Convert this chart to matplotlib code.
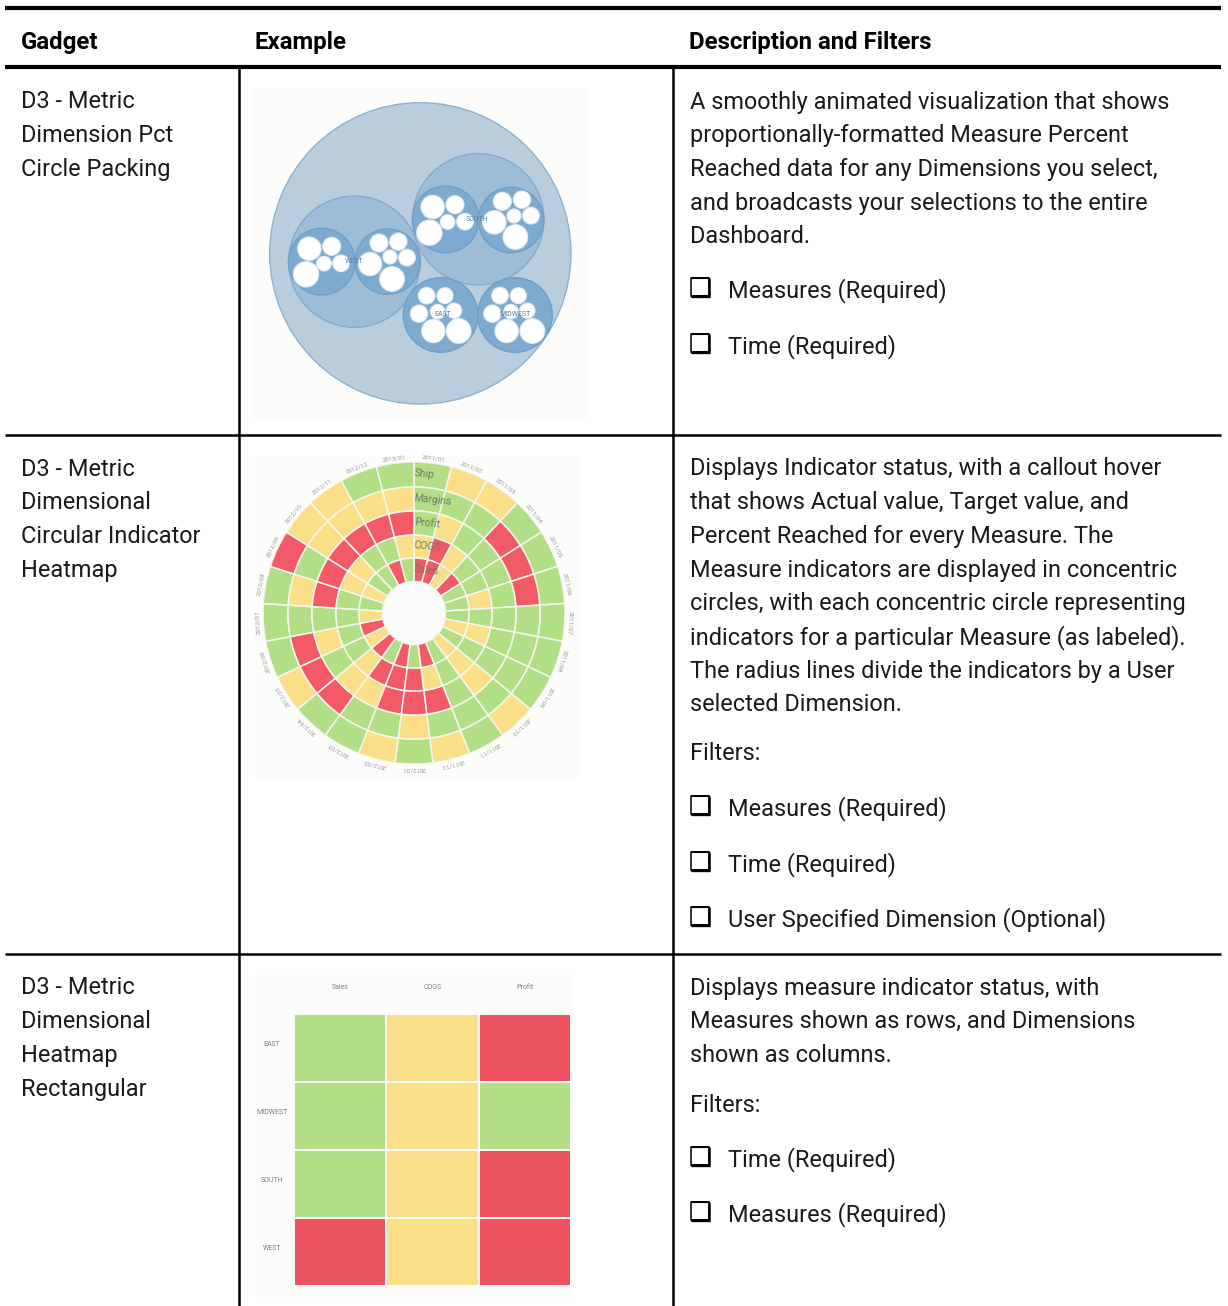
import matplotlib
matplotlib.use("Agg")
import matplotlib.pyplot as plt
from matplotlib.colors import ListedColormap
from matplotlib.patches import Circle
import numpy as np

W, H = 1228, 1306

# table text
headers = ["Gadget", "Example", "Description and Filters"]
gadget_1 = ["D3 - Metric", "Dimension Pct", "Circle Packing"]
gadget_2 = ["D3 - Metric", "Dimensional", "Circular Indicator", "Heatmap"]
gadget_3 = ["D3 - Metric", "Dimensional", "Heatmap", "Rectangular"]
desc_1 = ["A smoothly animated visualization that shows",
          "proportionally-formatted Measure Percent",
          "Reached data for any Dimensions you select,",
          "and broadcasts your selections to the entire",
          "Dashboard."]
desc_2 = ["Displays Indicator status, with a callout hover",
          "that shows Actual value, Target value, and",
          "Percent Reached for every Measure. The",
          "Measure indicators are displayed in concentric",
          "circles, with each concentric circle representing",
          "indicators for a particular Measure (as labeled).",
          "The radius lines divide the indicators by a User",
          "selected Dimension."]
desc_3 = ["Displays measure indicator status, with",
          "Measures shown as rows, and Dimensions",
          "shown as columns."]
checks_1 = ["Measures (Required)", "Time (Required)"]
checks_2 = ["Measures (Required)", "Time (Required)", "User Specified Dimension (Optional)"]
checks_3 = ["Time (Required)", "Measures (Required)"]

# circle packing (x, y, r in picture units)
root = (511, 505, 452)
groups = [(313, 530, 197), (685, 403, 197)]
subs = [(215, 530, 100), (413, 530, 98), (587, 403, 100), (783, 405, 98),
        (572, 690, 112), (795, 690, 112)]
leaves = [(178, 491, 35), (245, 484, 27), (168, 568, 38), (222, 536, 22), (273, 535, 25),
          (387, 474, 27), (445, 470, 26), (360, 537, 35), (420, 516, 21), (471, 518, 25), (426, 582, 37),
          (548, 366, 35), (615, 359, 27), (538, 443, 38), (593, 411, 22), (645, 410, 25),
          (757, 349, 27), (816, 344, 26), (733, 412, 35), (792, 393, 21), (843, 392, 25), (796, 456, 37),
          (530, 632, 25), (585, 632, 24), (507, 686, 26), (563, 680, 22), (612, 677, 23), (550, 738, 35), (626, 738, 37),
          (750, 632, 25), (805, 632, 24), (727, 686, 26), (783, 680, 22), (832, 677, 23), (770, 738, 35), (847, 738, 37)]
pack_labels = [("WEST", 313, 530), ("SOUTH", 680, 405), ("EAST", 578, 690), ("MIDWEST", 795, 690)]

# circular heatmap, outer ring first, sectors clockwise from the top
ring_names = ["Ship", "Margins", "Profit", "COGS", "Sales"]
ship = list("gyyggggggygygyggygggryygg")
margins = list("gggrrrggggggyggrrrgygyyyy")
profit = list("gygggggggygrrryygygrrrrrr")
cogs = list("yryggygygygyrrryggggyyggy")
sales = list("rryrgggygygrgrgryrygyggrg")
ring_edges = [151, 126, 102, 78, 55, 31.5]
sector_labels = ["2011/%02d" % (m + 1) for m in range(12)] + ["2012/%02d" % (m + 1) for m in range(12)] + ["2013/01"]

# rectangular heatmap
rect_cols = ["Sales", "COGS", "Profit"]
rect_rows = ["EAST", "MIDWEST", "SOUTH", "WEST"]
rect_vals = [[2, 1, 0],
             [2, 1, 2],
             [2, 1, 0],
             [0, 1, 0]]

GREEN, YELLOW, RED = "#b2de86", "#fbdf88", "#f25a68"
ring_colors = {"g": GREEN, "y": YELLOW, "r": RED}
BG = "#fcfdfb"
BODY = dict(family="Roboto", fontsize=16.9, color="#1a1a1a", va="center", ha="left")
HEAD = dict(family="Roboto", fontsize=17.3, color="black", va="center", ha="left", fontweight="bold")
LINE = 33.7


def px_axes(fig, left, top, right, bottom, **kw):
    return fig.add_axes([left / W, 1 - bottom / H, (right - left) / W, (bottom - top) / H], **kw)


fig = plt.figure(figsize=(W / 100, H / 100), dpi=100, facecolor="white")
page = fig.add_axes([0, 0, 1, 1])
page.set_xlim(0, W)
page.set_ylim(H, 0)
page.axis("off")

# rules
page.hlines(8, 5, 1221, color="black", lw=3)
page.hlines(67, 5, 1221, color="black", lw=3)
page.hlines([435, 954], 5, 1221, color="black", lw=1.8)
page.vlines([239, 673], 67, H, color="black", lw=1.8)

# text
for x, t in zip([21, 255, 689], headers):
    page.text(x, 43, t, **HEAD)
for y0, lines in [(102, gadget_1), (469, gadget_2), (988, gadget_3)]:
    for i, t in enumerate(lines):
        page.text(21, y0 + i * LINE, t, **BODY)
for y0, lines in [(102, desc_1), (469, desc_2), (988, desc_3)]:
    for i, t in enumerate(lines):
        page.text(690, y0 + i * LINE, t, **BODY)
page.text(690, 754, "Filters:", **BODY)
page.text(690, 1105, "Filters:", **BODY)
for ys, lines in [([291, 347], checks_1), ([809, 865, 920], checks_2), ([1160, 1215], checks_3)]:
    for y, t in zip(ys, lines):
        # the second copy thickens the shadow side of the box
        page.text(688, y - 2, "\u2751", family="DejaVu Sans", fontsize=18.5, color="black", va="center", ha="left")
        page.text(689, y - 1, "\u2751", family="DejaVu Sans", fontsize=18.5, color="black", va="center", ha="left")
        page.text(728, y, t, **BODY)

# circle packing
ax1 = px_axes(fig, 253, 88, 587, 418)
ax1.set_xlim(9, 1011)
ax1.set_ylim(999, 9)
ax1.set_aspect("equal")
ax1.set_facecolor(BG)
ax1.set_xticks([])
ax1.set_yticks([])
for s in ax1.spines.values():
    s.set_visible(False)
ax1.add_patch(Circle(root[:2], root[2], fc="#b9cddd", ec="#8fb2d0", lw=1))
for x, y, r in groups:
    ax1.add_patch(Circle((x, y), r, fc="#9ebcd6", ec="#84abcd", lw=1))
for x, y, r in subs:
    ax1.add_patch(Circle((x, y), r, fc="#7faad0", ec="#6f9fc8", lw=1))
for x, y, r in leaves:
    ax1.add_patch(Circle((x, y), r, fc="white", ec="#e4ebf0", lw=0.8))
for t, x, y in pack_labels:
    ax1.text(x, y, t, fontsize=5, color="#5f7fb0", ha="center", va="center", family="Roboto")

# circular heatmap
bg2 = px_axes(fig, 255, 457, 578, 778)
bg2.set_facecolor(BG)
bg2.set_xticks([])
bg2.set_yticks([])
for s in bg2.spines.values():
    s.set_visible(False)

ax2 = px_axes(fig, 414 - 151, 613 - 151, 414 + 151, 613 + 151, projection="polar")
ax2.set_theta_zero_location("N")
ax2.set_theta_direction(-1)
ax2.set_rlim(0, 151)
ax2.axis("off")
n_sect = len(margins)
width = 2 * np.pi / n_sect
theta = np.arange(n_sect) * width + width / 2
for i, ring in enumerate([ship, margins, profit, cogs, sales]):
    ax2.bar(theta, ring_edges[i] - ring_edges[i + 1], width=width, bottom=ring_edges[i + 1],
            color=[ring_colors[c] for c in ring], edgecolor="#f4f7ee", linewidth=1.1)
    ax2.text(0.0, (ring_edges[i] + ring_edges[i + 1]) / 2 + 1, ring_names[i], fontsize=7.5, rotation=-6,
             rotation_mode="anchor", color="#6f7a63", ha="left", va="center", family="Roboto")
for th, t in zip(theta, sector_labels):
    ax2.text(th, 156, t, fontsize=4.5, color="#999999", ha="center", va="center",
             rotation=-np.degrees(th), rotation_mode="anchor", family="Roboto")

# rectangular heatmap
bg3 = px_axes(fig, 255, 975, 573, 1297)
bg3.set_facecolor(BG)
bg3.set_xticks([])
bg3.set_yticks([])
for s in bg3.spines.values():
    s.set_visible(False)

ax3 = px_axes(fig, 294, 1014, 571, 1286)
cmap = ListedColormap(["#ee5362", "#fbdf88", "#b3e086"])
ax3.pcolormesh(np.array(rect_vals), cmap=cmap, vmin=0, vmax=2, edgecolors=BG, linewidth=1.2)
ax3.invert_yaxis()
ax3.xaxis.tick_top()
ax3.set_xticks(np.arange(len(rect_cols)) + 0.5, rect_cols, fontsize=5, color="#808080", family="Roboto")
ax3.set_yticks(np.arange(len(rect_rows)) + 0.5, rect_rows, fontsize=5, color="#808080", family="Roboto",
               ha="center", va="bottom")
ax3.tick_params(axis="y", length=0, pad=16)
ax3.tick_params(axis="x", length=0, pad=16.5)
for s in ax3.spines.values():
    s.set_visible(False)

fig.savefig("out.png", dpi=100)
